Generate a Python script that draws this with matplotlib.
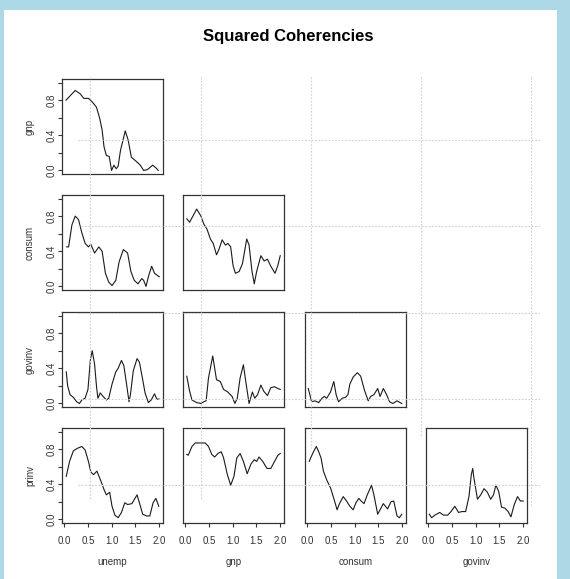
import matplotlib
matplotlib.use("Agg")
import matplotlib.pyplot as plt
from matplotlib.lines import Line2D
from matplotlib.patches import Rectangle

plt.rcParams['font.family'] = ['Liberation Sans', 'DejaVu Sans']

W, H = 570, 579

series_names = ["unemp", "gnp", "consum", "govinv", "prinv"]
title_text = "Squared Coherencies"
x_ticks = [0.0, 0.5, 1.0, 1.5, 2.0]
x_ticklabels = ["0.0", "0.5", "1.0", "1.5", "2.0"]
y_ticks = [0.0, 0.2, 0.4, 0.6, 0.8, 1.0]
y_ticklabels = ["0.0", "", "0.4", "", "0.8", ""]

# gnp vs unemp
f_gnp_unemp = [0.036, 0.23, 0.34, 0.41, 0.51, 0.59, 0.68, 0.75, 0.80, 0.84, 0.89, 0.95, 1.00, 1.05, 1.10, 1.14, 1.19, 1.29, 1.35, 1.42, 1.51, 1.61, 1.68, 1.76, 1.87, 1.94, 1.99]
c_gnp_unemp = [0.80, 0.91, 0.87, 0.82, 0.82, 0.78, 0.72, 0.59, 0.46, 0.27, 0.17, 0.16, 0.00, 0.06, 0.02, 0.05, 0.23, 0.45, 0.35, 0.15, 0.11, 0.06, 0.00, 0.01, 0.06, 0.03, 0.00]

# consum vs unemp
f_consum_unemp = [0.05, 0.09, 0.16, 0.23, 0.30, 0.37, 0.44, 0.51, 0.56, 0.64, 0.73, 0.80, 0.87, 0.94, 1.01, 1.09, 1.16, 1.25, 1.34, 1.41, 1.48, 1.56, 1.64, 1.68, 1.73, 1.79, 1.85, 1.91, 2.01]
c_consum_unemp = [0.45, 0.45, 0.70, 0.80, 0.76, 0.61, 0.49, 0.45, 0.48, 0.38, 0.45, 0.40, 0.15, 0.05, 0.01, 0.07, 0.28, 0.42, 0.38, 0.17, 0.07, 0.03, 0.09, 0.07, 0.00, 0.13, 0.23, 0.15, 0.11]

# consum vs gnp
f_consum_gnp = [0.03, 0.09, 0.16, 0.24, 0.33, 0.39, 0.46, 0.53, 0.59, 0.66, 0.71, 0.78, 0.85, 0.90, 0.96, 1.01, 1.06, 1.14, 1.21, 1.30, 1.35, 1.41, 1.46, 1.51, 1.60, 1.67, 1.74, 1.81, 1.90, 1.96, 2.01]
c_consum_gnp = [0.77, 0.73, 0.80, 0.88, 0.80, 0.71, 0.65, 0.54, 0.49, 0.36, 0.42, 0.53, 0.47, 0.49, 0.45, 0.24, 0.15, 0.17, 0.26, 0.54, 0.47, 0.18, 0.03, 0.17, 0.35, 0.29, 0.31, 0.23, 0.15, 0.24, 0.35]

# govinv vs unemp
f_govinv_unemp = [0.04, 0.07, 0.12, 0.19, 0.26, 0.32, 0.37, 0.44, 0.50, 0.55, 0.59, 0.64, 0.68, 0.71, 0.76, 0.82, 0.89, 0.94, 1.01, 1.09, 1.14, 1.21, 1.26, 1.31, 1.37, 1.40, 1.46, 1.54, 1.59, 1.66, 1.71, 1.78, 1.84, 1.91, 1.96, 2.01]
c_govinv_unemp = [0.36, 0.20, 0.10, 0.07, 0.02, 0.00, 0.04, 0.06, 0.16, 0.49, 0.60, 0.45, 0.20, 0.06, 0.12, 0.08, 0.04, 0.06, 0.22, 0.36, 0.40, 0.49, 0.43, 0.25, 0.02, 0.10, 0.37, 0.51, 0.47, 0.27, 0.12, 0.01, 0.04, 0.11, 0.05, 0.05]

# govinv vs gnp
f_govinv_gnp = [0.03, 0.09, 0.14, 0.24, 0.33, 0.39, 0.44, 0.49, 0.58, 0.66, 0.74, 0.81, 0.90, 0.99, 1.05, 1.10, 1.16, 1.23, 1.28, 1.35, 1.42, 1.47, 1.53, 1.60, 1.66, 1.74, 1.81, 1.89, 1.96, 2.01]
c_govinv_gnp = [0.31, 0.14, 0.04, 0.01, 0.00, 0.02, 0.03, 0.29, 0.54, 0.27, 0.25, 0.16, 0.13, 0.08, 0.00, 0.06, 0.29, 0.44, 0.25, 0.00, 0.13, 0.06, 0.10, 0.21, 0.14, 0.09, 0.18, 0.19, 0.17, 0.16]

# govinv vs consum
f_govinv_consum = [0.02, 0.09, 0.16, 0.24, 0.31, 0.36, 0.41, 0.49, 0.56, 0.61, 0.66, 0.74, 0.81, 0.86, 0.90, 0.97, 1.06, 1.13, 1.21, 1.29, 1.34, 1.41, 1.49, 1.54, 1.61, 1.68, 1.74, 1.81, 1.90, 2.00]
c_govinv_consum = [0.17, 0.02, 0.03, 0.01, 0.06, 0.08, 0.06, 0.13, 0.25, 0.10, 0.02, 0.06, 0.07, 0.10, 0.22, 0.30, 0.35, 0.31, 0.15, 0.03, 0.08, 0.10, 0.17, 0.08, 0.17, 0.10, 0.02, 0.00, 0.03, 0.00]

# prinv vs unemp
f_prinv_unemp = [0.04, 0.11, 0.19, 0.28, 0.37, 0.44, 0.51, 0.56, 0.62, 0.69, 0.78, 0.84, 0.89, 0.96, 1.01, 1.07, 1.14, 1.21, 1.28, 1.34, 1.43, 1.54, 1.59, 1.66, 1.74, 1.81, 1.88, 1.94, 2.00]
c_prinv_unemp = [0.49, 0.66, 0.78, 0.81, 0.83, 0.79, 0.66, 0.54, 0.51, 0.55, 0.43, 0.34, 0.28, 0.31, 0.15, 0.05, 0.02, 0.08, 0.19, 0.17, 0.18, 0.28, 0.19, 0.06, 0.04, 0.04, 0.19, 0.24, 0.15]

# prinv vs gnp
f_prinv_gnp = [0.03, 0.06, 0.14, 0.21, 0.31, 0.42, 0.49, 0.56, 0.62, 0.69, 0.76, 0.81, 0.89, 0.96, 1.03, 1.09, 1.16, 1.23, 1.31, 1.39, 1.46, 1.51, 1.56, 1.64, 1.73, 1.81, 1.89, 1.96, 2.01]
c_prinv_gnp = [0.74, 0.73, 0.83, 0.87, 0.87, 0.87, 0.83, 0.74, 0.71, 0.75, 0.77, 0.70, 0.51, 0.39, 0.49, 0.70, 0.75, 0.66, 0.52, 0.63, 0.68, 0.66, 0.71, 0.66, 0.58, 0.58, 0.66, 0.73, 0.75]

# prinv vs consum
f_prinv_consum = [0.04, 0.07, 0.13, 0.19, 0.24, 0.29, 0.34, 0.41, 0.49, 0.56, 0.63, 0.68, 0.76, 0.83, 0.90, 0.97, 1.03, 1.09, 1.14, 1.20, 1.27, 1.36, 1.41, 1.49, 1.54, 1.61, 1.70, 1.77, 1.83, 1.90, 1.95, 2.00]
c_prinv_consum = [0.66, 0.70, 0.77, 0.83, 0.77, 0.70, 0.55, 0.45, 0.36, 0.24, 0.11, 0.18, 0.26, 0.21, 0.15, 0.11, 0.19, 0.24, 0.21, 0.18, 0.28, 0.39, 0.28, 0.06, 0.11, 0.18, 0.12, 0.20, 0.21, 0.04, 0.02, 0.06]

# prinv vs govinv
f_prinv_govinv = [0.02, 0.07, 0.14, 0.24, 0.32, 0.41, 0.48, 0.56, 0.64, 0.71, 0.79, 0.86, 0.91, 0.94, 0.96, 1.04, 1.11, 1.18, 1.25, 1.32, 1.38, 1.43, 1.49, 1.55, 1.62, 1.69, 1.75, 1.82, 1.89, 1.95, 2.01]
c_prinv_govinv = [0.06, 0.02, 0.05, 0.08, 0.05, 0.05, 0.09, 0.15, 0.08, 0.09, 0.09, 0.26, 0.51, 0.58, 0.49, 0.23, 0.28, 0.35, 0.31, 0.23, 0.28, 0.39, 0.32, 0.14, 0.13, 0.09, 0.03, 0.17, 0.26, 0.21, 0.21]

panels = {
    (0, 0): (f_gnp_unemp, c_gnp_unemp),
    (1, 0): (f_consum_unemp, c_consum_unemp),
    (1, 1): (f_consum_gnp, c_consum_gnp),
    (2, 0): (f_govinv_unemp, c_govinv_unemp),
    (2, 1): (f_govinv_gnp, c_govinv_gnp),
    (2, 2): (f_govinv_consum, c_govinv_consum),
    (3, 0): (f_prinv_unemp, c_prinv_unemp),
    (3, 1): (f_prinv_gnp, c_prinv_gnp),
    (3, 2): (f_prinv_consum, c_prinv_consum),
    (3, 3): (f_prinv_govinv, c_prinv_govinv),
}

fig = plt.figure(figsize=(W / 100, H / 100), dpi=100)
fig.patch.set_facecolor("white")


def fx(px):
    return px / W


def fy(py):
    return 1 - py / H


# light blue page frame
frame_col = "#add8e6"
fig.patches.append(Rectangle((0, fy(10)), 1, 10 / H, transform=fig.transFigure,
                             facecolor=frame_col, edgecolor="none", zorder=0))
fig.patches.append(Rectangle((0, 0), fx(4), 1, transform=fig.transFigure,
                             facecolor=frame_col, edgecolor="none", zorder=0))
fig.patches.append(Rectangle((fx(557), 0), fx(13), 1, transform=fig.transFigure,
                             facecolor=frame_col, edgecolor="none", zorder=0))

# dotted page guide lines
grid_col = "#cfcfcf"
for gx, y0, y1 in [(90, 77, 500), (201, 77, 500), (311, 77, 448), (421, 77, 436), (531, 77, 505)]:
    fig.add_artist(Line2D([fx(gx), fx(gx)], [fy(y0), fy(y1)], transform=fig.transFigure,
                          color=grid_col, lw=0.8, linestyle=(0, (1.5, 1.5)), zorder=0.5))
for gy in [140, 226, 312.5, 399, 485]:
    fig.add_artist(Line2D([fx(78), fx(540)], [fy(gy), fy(gy)], transform=fig.transFigure,
                          color=grid_col, lw=0.8, linestyle=(0, (1.5, 1.5)), zorder=0.5))

fig.text(fx(288), fy(37), title_text, ha="center", va="center",
         fontsize=12, fontweight="bold", color="black")

col_left = [62, 183, 305, 426]
row_top = [79, 195, 312, 428]
pw, ph = 101, 95
text_col = "#333333"

for (r, c), (fr, co) in panels.items():
    ax = fig.add_axes([fx(col_left[c]), fy(row_top[r] + ph), pw / W, ph / H])
    ax.set_facecolor("none")
    ax.plot(fr, co, color="#1a1a1a", lw=0.8)
    ax.set_xlim(-0.05, 2.09)
    ax.set_ylim(-0.04, 1.04)
    for s in ax.spines.values():
        s.set_color("#333333")
        s.set_linewidth(0.9)
    ax.set_xticks(x_ticks)
    ax.set_yticks(y_ticks)
    ax.tick_params(direction="out", length=3, width=0.8, color="#333333",
                   labelsize=7, labelcolor=text_col)
    if r == 3:
        ax.set_xticklabels(x_ticklabels)
        ax.tick_params(axis="x", pad=6)
        ax.set_xlabel(series_names[c], fontsize=7, color=text_col, labelpad=8)
    else:
        ax.tick_params(axis="x", bottom=False, labelbottom=False)
    if c == 0:
        ax.set_yticklabels(y_ticklabels, rotation=90, va="center")
        ax.tick_params(axis="y", pad=0.8)
        ax.set_ylabel(series_names[r + 1], fontsize=7, color=text_col, labelpad=8.5)
    else:
        ax.tick_params(axis="y", left=False, labelleft=False)

fig.savefig("out.png", dpi=100, facecolor="white")
